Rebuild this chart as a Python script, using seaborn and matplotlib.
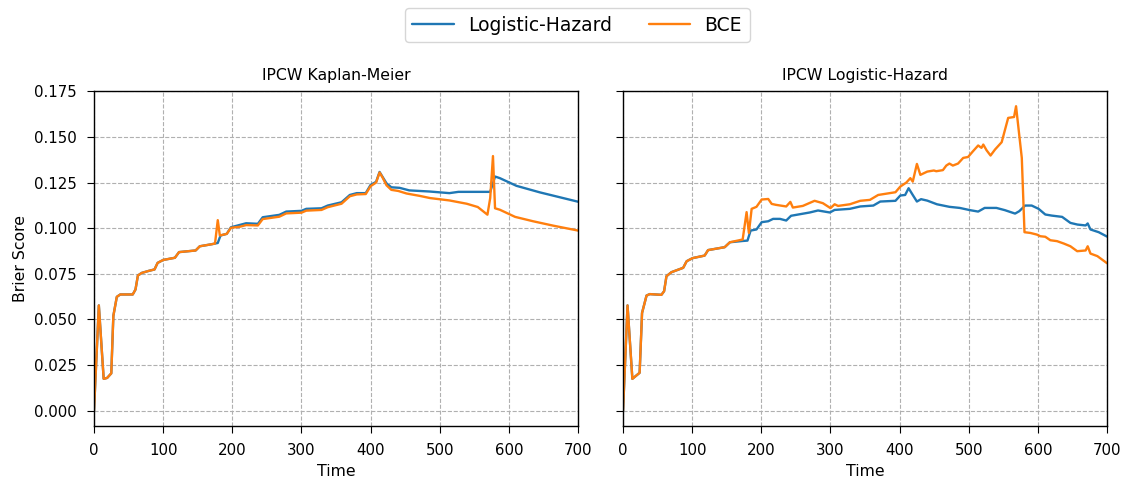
import pandas as pd # data handling
import matplotlib.pyplot as plt # plotting library
import seaborn as sns # data visualization library

# IPCW Kaplan-Meier panel, Logistic-Hazard curve (time, brier score)
km_lh_time = [0, 7, 14, 19, 25, 28, 33, 38, 56, 60, 63.5, 69, 79, 87.5, 92, 100, 117, 123, 147, 153,
              170, 179, 183, 192, 198, 211, 220, 237, 244, 268, 278, 300, 307, 329, 338, 358, 370, 380,
              393, 400, 408, 413, 417, 423, 430, 442, 456, 485, 514, 527, 573, 580, 587, 611, 645, 700]
km_lh_score = [0.0, 0.0577, 0.0175, 0.018, 0.0205, 0.052, 0.0624, 0.0637, 0.0637, 0.0664, 0.0741, 0.0755,
               0.0766, 0.0774, 0.081, 0.0826, 0.0838, 0.0869, 0.0878, 0.0901, 0.0912, 0.0919, 0.096,
               0.0969, 0.1005, 0.1018, 0.1027, 0.1024, 0.106, 0.1073, 0.1091, 0.1095, 0.1106, 0.1109,
               0.1124, 0.1142, 0.1182, 0.1192, 0.1192, 0.1237, 0.1254, 0.1308, 0.1283, 0.1246, 0.1224,
               0.1221, 0.1207, 0.1201, 0.1192, 0.1199, 0.1199, 0.1283, 0.1274, 0.1232, 0.1196, 0.1145]

# IPCW Kaplan-Meier panel, BCE curve
km_bce_time = [0, 7, 14, 19, 25, 28, 33, 38, 56, 60, 63.5, 69, 79, 87.5, 92, 100, 117, 123, 147, 153,
               170, 175, 179, 182, 192, 198, 211, 220, 237, 244, 268, 278, 300, 307, 329, 338, 358, 370,
               380, 393, 400, 408, 413, 417, 423, 430, 440, 452, 471, 486, 514, 539, 555, 569, 573, 577,
               580, 587, 609, 635, 664, 700]
km_bce_score = [0.0, 0.0577, 0.0175, 0.018, 0.0205, 0.052, 0.0624, 0.0637, 0.0637, 0.0664, 0.0741, 0.0755,
                0.0766, 0.0774, 0.081, 0.0826, 0.0838, 0.0869, 0.0878, 0.0901, 0.0912, 0.0916, 0.1044,
                0.096, 0.0969, 0.1002, 0.1008, 0.1017, 0.1015, 0.105, 0.1063, 0.1081, 0.1085, 0.1096,
                0.11, 0.1115, 0.1134, 0.1175, 0.1185, 0.1187, 0.123, 0.125, 0.1305, 0.128, 0.1235, 0.121,
                0.1204, 0.119, 0.1177, 0.1165, 0.1152, 0.1134, 0.1116, 0.1074, 0.1165, 0.1395, 0.1109,
                0.1101, 0.1062, 0.1038, 0.1014, 0.0987]

# IPCW Logistic-Hazard panel, Logistic-Hazard curve
lh_lh_time = [0, 6.5, 13.5, 24, 27.5, 34, 38.6, 55.5, 59.4, 62.8, 70, 87, 92, 100.5, 118, 123, 147, 154.6,
              173, 180, 184.5, 193, 200.5, 210, 217, 227, 236, 243, 270, 282, 299, 306, 328, 343, 362,
              372, 394, 401, 408, 413, 419, 425, 431, 440, 454, 472, 487, 501.5, 513.6, 523, 540, 552,
              567, 573, 581.5, 591, 601, 610.7, 620, 635, 647, 657, 669, 672, 676, 688, 700]
lh_lh_score = [0.0, 0.0577, 0.0175, 0.0208, 0.0536, 0.0631, 0.0639, 0.0635, 0.0655, 0.0737, 0.0759,
               0.0783, 0.0819, 0.0836, 0.085, 0.088, 0.0896, 0.0923, 0.093, 0.0932, 0.0987, 0.0993,
               0.1033, 0.1038, 0.1051, 0.1051, 0.1042, 0.1068, 0.1086, 0.1097, 0.1086, 0.11, 0.1106,
               0.1119, 0.1124, 0.1146, 0.115, 0.1179, 0.1182, 0.1219, 0.1182, 0.1146, 0.1159, 0.1151,
               0.1131, 0.1117, 0.1111, 0.1099, 0.1091, 0.1111, 0.1111, 0.1099, 0.108, 0.1093, 0.1124,
               0.1124, 0.1106, 0.1075, 0.1069, 0.1062, 0.1029, 0.102, 0.1015, 0.1026, 0.0993, 0.0978,
               0.0954]

# IPCW Logistic-Hazard panel, BCE curve
lh_bce_time = [0, 6.5, 13.5, 24, 27.5, 34, 38.6, 55.5, 59.4, 62.8, 70, 87, 92, 100.5, 118, 123, 147, 154.6,
               173, 178.7, 182, 186, 193, 200.5, 210, 215, 221, 236, 242, 245.6, 260, 277, 289, 300, 306,
               311, 328, 343, 357, 369, 394, 401, 409.7, 415.5, 419, 425, 430, 440, 449.5, 453, 462.6,
               467.5, 472, 477, 484.5, 492, 499, 506, 513.6, 518.4, 521, 525.7, 531.5, 538, 547.6, 557,
               565.5, 568.4, 570.4, 576.7, 580.6, 589, 598.5, 603.4, 610.7, 618, 627.7, 637.4, 647,
               656.8, 669, 672, 676, 686, 700]
lh_bce_score = [0.0, 0.0577, 0.0175, 0.0208, 0.0536, 0.0631, 0.0639, 0.0635, 0.0655, 0.0737, 0.0759,
                0.0783, 0.0819, 0.0836, 0.085, 0.088, 0.0896, 0.0923, 0.0938, 0.1088, 0.0974, 0.1106,
                0.1117, 0.1157, 0.116, 0.1133, 0.1128, 0.1119, 0.1144, 0.1113, 0.1122, 0.115, 0.1137,
                0.111, 0.1131, 0.1122, 0.1131, 0.115, 0.1155, 0.1182, 0.1197, 0.1228, 0.125, 0.1274,
                0.1255, 0.1352, 0.1292, 0.131, 0.1316, 0.1312, 0.1318, 0.1343, 0.1354, 0.1343, 0.1354,
                0.1385, 0.139, 0.1421, 0.1453, 0.144, 0.1458, 0.1427, 0.1398, 0.1431, 0.1471, 0.1604,
                0.1609, 0.1668, 0.1599, 0.1385, 0.0978, 0.0974, 0.0965, 0.0956, 0.0953, 0.0934, 0.0929,
                0.0916, 0.0901, 0.0874, 0.0878, 0.0901, 0.0861, 0.0847, 0.0808]

methods = ['Logistic-Hazard', 'BCE']
panel_titles = ['IPCW Kaplan-Meier', 'IPCW Logistic-Hazard']
palette = {'Logistic-Hazard': '#1f77b4', 'BCE': '#ff7f0e'}


def to_frame(times, scores, method):
    # long format table so seaborn can colour by method
    return pd.DataFrame({'Time': times, 'Brier Score': scores, 'Method': method})


panels = [
    pd.concat([to_frame(km_lh_time, km_lh_score, methods[0]),
               to_frame(km_bce_time, km_bce_score, methods[1])], ignore_index=True),
    pd.concat([to_frame(lh_lh_time, lh_lh_score, methods[0]),
               to_frame(lh_bce_time, lh_bce_score, methods[1])], ignore_index=True),
]

# plain white style with dashed grey grid, black text
sns.set_style('ticks', {'axes.grid': True, 'grid.linestyle': '--', 'grid.color': '#b0b0b0',
                        'axes.edgecolor': 'black', 'axes.labelcolor': 'black', 'text.color': 'black',
                        'xtick.color': 'black', 'ytick.color': 'black',
                        'xtick.direction': 'out', 'ytick.direction': 'out'})
plt.rcParams['font.family'] = ['DejaVu Sans']
plt.rcParams['xtick.major.size'] = 5
plt.rcParams['ytick.major.size'] = 5
plt.rcParams['xtick.major.pad'] = 7.5
plt.rcParams['ytick.major.pad'] = 7.5

fig, axes = plt.subplots(1, 2, sharey=True, figsize=(11.23, 4.83), dpi=100)
fig.subplots_adjust(left=0.0837, right=0.9858, bottom=0.118, top=0.8116, wspace=0.093)

for ax, df, title in zip(axes, panels, panel_titles):
    sns.lineplot(data=df, x='Time', y='Brier Score', hue='Method', hue_order=methods,
                 palette=palette, linewidth=1.7, ax=ax, legend=(ax is axes[0]))
    ax.set_title(title, fontsize=11.3, pad=8)
    ax.set_xlim(0, 700)
    ax.set_xticks(range(0, 701, 100))
    ax.set_xlabel('Time', fontsize=11.3)
    for side in ['top', 'right', 'left', 'bottom']:
        ax.spines[side].set_visible(True)
        ax.spines[side].set_linewidth(1.0)
    ax.tick_params(labelsize=10.8)

axes[0].set_ylabel('Brier Score', fontsize=11.3)
axes[1].set_ylabel('')

# one legend for the whole figure, on top
handles, labels = axes[0].get_legend_handles_labels()
axes[0].get_legend().remove()
fig.legend(handles, labels, loc='upper center', ncol=2, bbox_to_anchor=(0.514, 0.995),
           fontsize=13.5, frameon=True, handlelength=2.2, handletextpad=0.75, columnspacing=2.0,
           borderaxespad=0.3)

plt.savefig('out.png', dpi=100)
plt.close()
